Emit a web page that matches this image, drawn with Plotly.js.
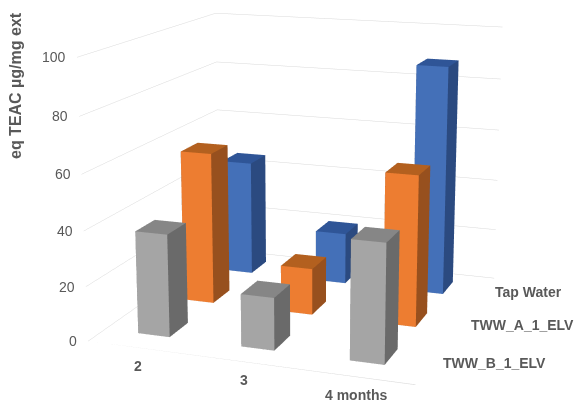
<!DOCTYPE html>
<html><head><meta charset="utf-8">
<script src="https://cdn.plot.ly/plotly-3.0.1.min.js"></script>
<style>html,body{margin:0;padding:0;background:#fff;overflow:hidden}
#w{position:relative;width:578px;height:403px;overflow:hidden}
#c{position:absolute;left:-296px;top:-421px;width:1200px;height:1197px}</style></head>
<body><div id="w"><div id="c"></div></div>
<script>
const categories=['2','3','4 months'];
const seriesNames=['TWW_B_1_ELV','TWW_A_1_ELV','Tap Water'];
const seriesB=[37.5,19,42.5];
const seriesA=[57.5,17.5,56];
const seriesTap=[45,20,88];
const allSeries=[seriesB,seriesA,seriesTap];
const frontColors=['#a5a5a5','#ed7d31','#4470b8'];
const topColors=['#868686','#b3601f','#2f5597'];
const sideColors=['#6a6a6a','#97501e','#2b4a80'];
const valueTicks=[0,20,40,60,80,100];
const halfX=0.155, halfY=0.2, depthShift=0.04, widthShift=-0.017;
const xMin=-0.5,xMax=2.5,yMin=-0.5,yMax=2.5,zMax=100;
const grid='#d9d9d9';
const traces=[{type:'scatter3d',mode:'lines',x:[xMin,xMax],y:[yMin,yMin],z:[0,0],line:{color:grid,width:1.2},hoverinfo:'skip',showlegend:false}];
allSeries.forEach((vals,s)=>{
  vals.forEach((v,c)=>{
    const x0=c-halfX+widthShift,x1=c+halfX+widthShift,y0=s-halfY+depthShift,y1=s+halfY+depthShift;
    const fc=[sideColors[s],sideColors[s],topColors[s],topColors[s],frontColors[s],frontColors[s],sideColors[s],sideColors[s],sideColors[s],sideColors[s],sideColors[s],sideColors[s]];
    traces.push({type:'mesh3d',
      x:[x0,x1,x1,x0,x0,x1,x1,x0],
      y:[y0,y0,y1,y1,y0,y0,y1,y1],
      z:[0,0,0,0,v,v,v,v],
      i:[0,0,4,4,0,0,1,1,2,2,3,3],
      j:[1,2,5,6,1,5,2,6,3,7,0,4],
      k:[2,3,6,7,5,4,6,5,7,6,4,7],
      facecolor:fc,flatshading:true,
      lighting:{ambient:1,diffuse:0,specular:0,roughness:1,fresnel:0},
      hoverinfo:'skip',showscale:false});
  });
});
const labelFont={family:'Liberation Sans',size:14,color:'#595959'};
const sceneAnn=[];
valueTicks.forEach(v=>sceneAnn.push({x:xMin,y:yMin,z:v,text:String(v),showarrow:false,xanchor:'right',yanchor:'middle',xshift:-9,font:labelFont}));
categories.forEach((t,c)=>sceneAnn.push({x:c,y:yMin,z:0,text:'<b>'+t+'</b>',showarrow:false,xanchor:'center',yanchor:'middle',xshift:-1,yshift:-18,font:labelFont}));
seriesNames.forEach((t,s)=>sceneAnn.push({x:xMax,y:s,z:0,text:'<b>'+t+'</b>',showarrow:false,xanchor:'left',yanchor:'middle',xshift:10,yshift:1,font:labelFont}));
const off={showgrid:false,zeroline:false,showline:false,ticks:'',showticklabels:false,showbackground:false,showspikes:false,title:{text:''}};
Plotly.newPlot('c',traces,{
  width:1200,height:1197,margin:{l:0,r:0,t:0,b:0,pad:0},paper_bgcolor:'#fff',showlegend:false,
  scene:{
    domain:{x:[0,1],y:[0,1]},
    aspectmode:'manual',aspectratio:{x:1,y:0.995,z:0.847},
    camera:{eye:{x:1.453,y:-4.072,z:1.081},center:{x:0,y:0,z:0},up:{x:0,y:0,z:1},projection:{type:'perspective'}},
    xaxis:Object.assign({range:[xMin,xMax]},off),
    yaxis:Object.assign({range:[yMin,yMax]},off),
    zaxis:Object.assign({},off,{range:[0,zMax],tickvals:valueTicks,showgrid:true,gridcolor:grid,gridwidth:1}),
    annotations:sceneAnn
  },
  annotations:[{text:'<b>eq TEAC µg/mg ext</b>',xref:'paper',yref:'paper',x:(16+296)/1200,y:1-(86+421)/1197,textangle:-90,showarrow:false,xanchor:'center',yanchor:'middle',font:{family:'Liberation Sans',size:16,color:'#595959'}}]
},{displayModeBar:false});
</script></body></html>
